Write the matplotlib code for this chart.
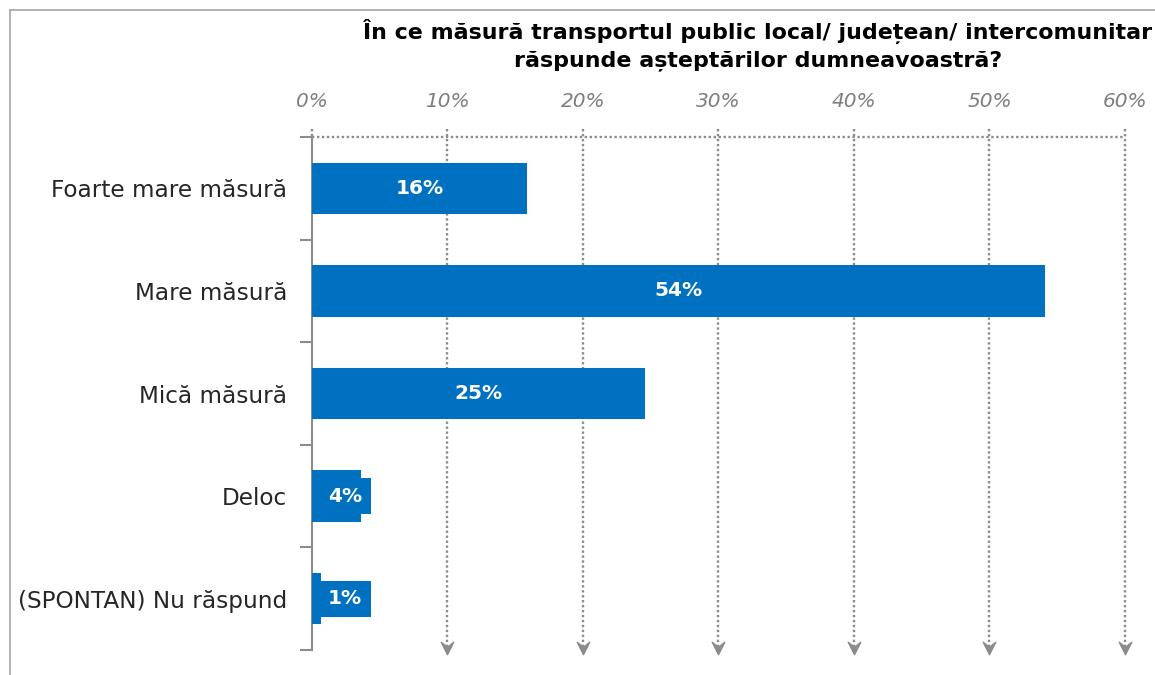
import matplotlib.pyplot as plt
import numpy as np
from matplotlib.path import Path
from matplotlib.lines import Line2D

categories = ["Foarte mare măsură", "Mare măsură", "Mică măsură", "Deloc", "(SPONTAN) Nu răspund"]
values = [15.9, 54.1, 24.6, 3.6, 0.7]
labels = ["16%", "54%", "25%", "4%", "1%"]
xticks = [0, 10, 20, 30, 40, 50, 60]
title = "În ce măsură transportul public local/ județean/ intercomunitar\nrăspunde așteptărilor dumneavoastră?"

BLUE = "#0070C0"
GRID = "#8c8c8c"

fig = plt.figure(figsize=(11.55, 6.75), dpi=100)
ax = fig.add_axes([0.2701, 0.037, 0.7039, 0.760])

y = np.arange(len(categories))
ax.barh(y, values, height=0.5, color=BLUE, zorder=3)

for yi, v, lab in zip(y, values, labels):
    xpos = max(v / 2, 2.45)
    ax.text(xpos, yi, lab, ha="center", va="center", color="white",
            fontsize=14.5, fontweight="bold", zorder=4,
            bbox=dict(boxstyle="square,pad=0.42", fc=BLUE, ec="none"))

ax.set_xlim(0, 60)
ax.set_ylim(len(categories) - 0.5, -0.5)

# dotted gridlines with arrow heads
head = Path([(-1, 1), (0, -1), (1, 1), (0, 0.2), (-1, 1)],
            [Path.MOVETO, Path.LINETO, Path.LINETO, Path.LINETO, Path.CLOSEPOLY])
for xt in xticks[1:]:
    ax.plot([xt, xt], [-0.58, 4.47], color=GRID, lw=1.7, ls=(0, (1, 1.1)),
            clip_on=False, zorder=2)
    ax.plot([xt], [4.48], marker=head, ms=9, color=GRID, mec=GRID,
            clip_on=False, zorder=2)
ax.plot([0, 0], [-0.58, -0.5], color=GRID, lw=1.7, ls=(0, (1, 1.1)), clip_on=False)
ax.plot([0, 60], [-0.5, -0.5], color=GRID, lw=1.7, ls=(0, (1, 1.1)), clip_on=False, zorder=2)

ax.xaxis.tick_top()
ax.set_xticks(xticks)
ax.set_xticklabels([f"{t}%" for t in xticks], fontsize=14.5, style="italic", color="#7f7f7f")
ax.tick_params(axis="x", length=0, pad=19)

ax.set_yticks(y)
ax.set_yticklabels(categories, fontsize=16.7, color="#262626")
ax.tick_params(axis="y", length=0, pad=18)
ax.set_yticks(np.arange(-0.5, len(categories), 1.0), minor=True)
ax.tick_params(axis="y", which="minor", length=9, color=GRID, width=1.5, direction="out")

for s in ["top", "right", "bottom"]:
    ax.spines[s].set_visible(False)
ax.spines["left"].set_color(GRID)
ax.spines["left"].set_linewidth(1.5)

fig.text(0.656, 0.972, title, ha="center", va="top", fontsize=15.9,
         fontweight="bold", color="black", linespacing=1.42)

# outer frame (left and top)
fig.add_artist(Line2D([0.009, 0.009], [0.0, 0.985], transform=fig.transFigure,
                      color="#a6a6a6", lw=1.2))
fig.add_artist(Line2D([0.009, 1.0], [0.985, 0.985], transform=fig.transFigure,
                      color="#a6a6a6", lw=1.2))

fig.savefig("out.png", dpi=100)
